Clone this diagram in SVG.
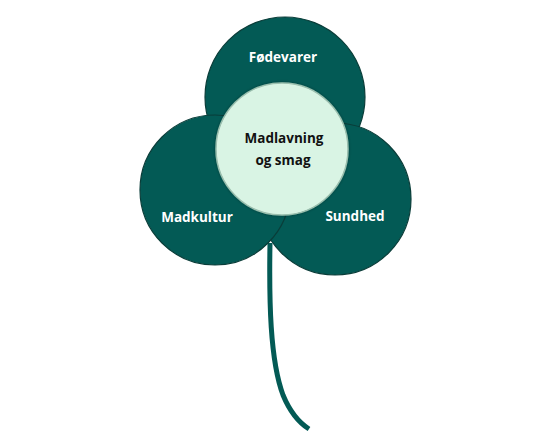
<svg xmlns="http://www.w3.org/2000/svg" width="559" height="439" viewBox="0 0 559 439">
<defs>
<style>
.petal{fill:#035a55;stroke:#0a3d39;stroke-width:1.2}
.lbl{font-family:"Open Sans","Noto Sans",sans-serif;font-weight:bold;font-size:13.5px;text-anchor:middle}
.w{fill:#ffffff}
.k{fill:#111111}
</style>
<filter id="sh" x="-20%" y="-20%" width="140%" height="140%">
<feGaussianBlur in="SourceAlpha" stdDeviation="1.5"/>
<feOffset dx="0" dy="0" result="b"/>
<feFlood flood-color="#000" flood-opacity="0.35"/>
<feComposite in2="b" operator="in"/>
<feMerge><feMergeNode/><feMergeNode in="SourceGraphic"/></feMerge>
</filter>
</defs>
<rect width="559" height="439" fill="#ffffff"/>
<g id="connectors">
<path d="M270,243 C269,300 270,360 283,395 C290,412 298,422 309,429" fill="none" stroke="#035a55" stroke-width="5"/>
</g>
<g id="fodevarer">
<ellipse class="petal" cx="285" cy="97" rx="80" ry="80"/>
<text class="lbl w" x="283" y="62">Fødevarer</text>
</g>
<g id="sundhed">
<circle class="petal" cx="335" cy="199" r="76"/>
<text class="lbl w" x="355" y="221">Sundhed</text>
</g>
<g id="madkultur">
<circle class="petal" cx="215" cy="190" r="75"/>
<text class="lbl w" x="197" y="222">Madkultur</text>
</g>
<g id="madlavning">
<circle cx="282" cy="149" r="66" fill="#d9f4e4" stroke="#9bbfae" stroke-width="1.5" filter="url(#sh)"/>
<text class="lbl k" x="284" y="143">Madlavning</text>
<text class="lbl k" x="283" y="165">og smag</text>
</g>
</svg>
